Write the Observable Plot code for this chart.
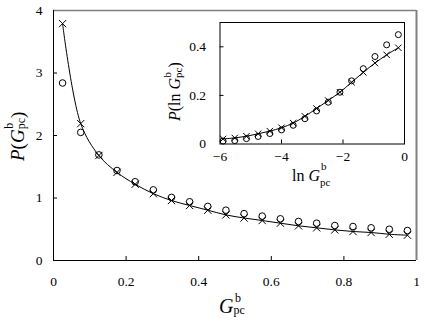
<!DOCTYPE html>
<html>
<head>
<meta charset="utf-8">
<script src="https://cdn.jsdelivr.net/npm/d3@7"></script>
<script src="https://cdn.jsdelivr.net/npm/@observablehq/plot@0.6"></script>
<style>
  html, body { margin: 0; padding: 0; background: white; }
  #wrap { position: relative; width: 425px; height: 321px; }
  #wrap svg { position: absolute; }
  #wrap svg text:not(.ttl) { font-family: 'Liberation Serif', 'Times New Roman', serif !important; font-size: 13.5px !important; fill: black; }
</style>
</head>
<body>
<div id="wrap"></div>
<script>
// ---- Main panel data ----
const mainX = [0.025, 0.075, 0.125, 0.175, 0.225, 0.275, 0.325, 0.375, 0.425, 0.475,
               0.525, 0.575, 0.625, 0.675, 0.725, 0.775, 0.825, 0.875, 0.925, 0.975];
const mainCircles = [2.84, 2.05, 1.69, 1.44, 1.26, 1.13, 1.01, 0.94, 0.865, 0.805,
                     0.75, 0.71, 0.667, 0.624, 0.597, 0.56, 0.544, 0.523, 0.50, 0.48];
const mainCrosses = [3.79, 2.19, 1.68, 1.41, 1.22, 1.07, 0.96, 0.88, 0.805, 0.73,
                     0.68, 0.64, 0.597, 0.555, 0.523, 0.49, 0.464, 0.448, 0.42, 0.405];
const mainXTicks = [0, 0.2, 0.4, 0.6, 0.8, 1];
const mainYTicks = [0, 1, 2, 3, 4];

// ---- Inset data ----
const insetX = [-5.9, -5.52, -5.14, -4.76, -4.38, -4.0, -3.62, -3.24,
                -2.86, -2.48, -2.1, -1.72, -1.34, -0.96, -0.58, -0.2];
const insetCircles = [0.012, 0.014, 0.022, 0.031, 0.043, 0.058, 0.077, 0.104,
                      0.136, 0.172, 0.213, 0.260, 0.310, 0.360, 0.408, 0.450];
const insetCrosses = [0.021, 0.025, 0.032, 0.042, 0.053, 0.067, 0.086, 0.114,
                      0.146, 0.179, 0.213, 0.254, 0.295, 0.333, 0.367, 0.396];
const insetXTicks = [-6, -4, -2, 0];
const insetYTicks = [0, 0.2, 0.4];

const mainData = mainX.map((x, i) => ({x, circle: mainCircles[i], cross: mainCrosses[i]}));
const insetData = insetX.map((x, i) => ({x, circle: insetCircles[i], cross: insetCrosses[i]}));

const fmt = d => d < 0 ? "\u2212" + Math.abs(d) : String(d);
const FONT = "'Liberation Serif', 'Times New Roman', serif";

// main frame geometry
const W = 425, H = 321;
const mL = 53, mR = 9, mT = 10, mB = 61;
const fW = W - mL - mR, fH = H - mT - mB;

const main = Plot.plot({
  width: W, height: H,
  marginLeft: mL, marginRight: mR, marginTop: mT, marginBottom: mB,
  style: {fontFamily: FONT, fontSize: "13.5px", background: "white", color: "black"},
  x: {domain: [0, 1], ticks: mainXTicks, tickFormat: fmt, tickSize: 0, tickPadding: 16, label: null},
  y: {domain: [0, 4], ticks: mainYTicks, tickFormat: fmt, tickSize: 0, tickPadding: 11, label: null},
  marks: [
    Plot.ruleY([4], {stroke: "#808080", strokeWidth: 1.5}),
    Plot.ruleX([1], {stroke: "#808080", strokeWidth: 2}),
    Plot.ruleX([0], {stroke: "black", strokeWidth: 1}),
    Plot.ruleY([0], {stroke: "black", strokeWidth: 1}),
    Plot.tickX(mainXTicks.slice(1, -1), {x: d => d, insetTop: fH - 4, stroke: "black"}),
    Plot.tickY(mainYTicks.slice(1, -1), {y: d => d, insetRight: fW - 4, stroke: "black"}),
    Plot.line(mainData, {x: "x", y: "cross", curve: "catmull-rom", stroke: "black", strokeWidth: 1}),
    Plot.dot(mainData, {x: "x", y: "circle", r: 3.3, stroke: "black", fill: "none", strokeWidth: 1}),
    Plot.dot(mainData, {x: "x", y: "cross", symbol: "times", r: 3.4, stroke: "black", strokeWidth: 1})
  ]
});

// inset geometry
const iLeft = 150, iTop = 12, iW = 270, iH = 180;
const iML = 69.5, iMR = 16, iMT = 10, iMB = 48.5;
const ifW = iW - iML - iMR, ifH = iH - iMT - iMB;

const inset = Plot.plot({
  width: iW, height: iH,
  marginLeft: iML, marginRight: iMR, marginTop: iMT, marginBottom: iMB,
  style: {fontFamily: FONT, fontSize: "13.5px", background: "transparent", color: "black", overflow: "visible"},
  x: {domain: [-6, 0], ticks: insetXTicks, tickFormat: fmt, tickSize: 0, tickPadding: 7, label: null},
  y: {domain: [0, 0.5], ticks: insetYTicks, tickFormat: fmt, tickSize: 0, tickPadding: 14, label: null},
  marks: [
    Plot.frame({stroke: "black", strokeWidth: 1}),
    Plot.tickX(insetXTicks.slice(1, -1), {x: d => d, insetTop: ifH - 4, stroke: "black"}),
    Plot.tickY(insetYTicks.slice(1), {y: d => d, insetRight: ifW - 4, stroke: "black"}),
    Plot.line(insetData, {x: "x", y: "cross", curve: "catmull-rom", stroke: "black", strokeWidth: 1}),
    Plot.dot(insetData, {x: "x", y: "circle", r: 3, stroke: "black", fill: "none", strokeWidth: 1}),
    Plot.dot(insetData, {x: "x", y: "cross", symbol: "times", r: 3, stroke: "black", strokeWidth: 1})
  ]
});

const wrap = document.getElementById("wrap");
main.style.left = "0px"; main.style.top = "0px";
inset.style.left = iLeft + "px"; inset.style.top = iTop + "px";
inset.style.background = "transparent";
wrap.appendChild(main);
wrap.appendChild(inset);

// ---- axis titles (real text with sub/superscripts) ----
function addTitle(svg, {x, y, rotate = 0, size, parts}) {
  const g = d3.select(svg).append("g")
    .attr("transform", `translate(${x},${y})` + (rotate ? ` rotate(${rotate})` : ""))
    .attr("font-family", FONT).attr("fill", "black").attr("text-anchor", "start");
  const t = g.append("text").attr("class", "ttl").attr("x", 0).attr("y", 0).attr("font-size", size)
    .attr("text-anchor", "start").style("font-size", size + "px").style("font-family", FONT);
  for (const p of parts) {
    const s = t.append("tspan").text(p.t);
    if (p.i) s.attr("font-style", "italic");
    if (p.s) s.attr("font-size", p.s).style("font-size", p.s + "px");
    if (p.dx) s.attr("dx", p.dx);
    if (p.dy) s.attr("dy", p.dy);
  }
}

// main x title: G^b_pc
addTitle(main, {x: 219, y: 313, size: 20, parts: [
  {t: "G", i: true},
  {t: "b", s: 12, dx: 1.5, dy: -11.5},
  {t: "pc", s: 12, dx: -7.5, dy: 12.5}
]});

// main y title: P(G^b_pc)
addTitle(main, {x: 24, y: 161, rotate: -90, size: 19, parts: [
  {t: "P", i: true},
  {t: "("},
  {t: "G", i: true},
  {t: "b", s: 12, dx: 0.5, dy: -11},
  {t: "pc", s: 12, dx: -6.5, dy: 12},
  {t: ")", dy: -1}
]});

// inset x title: ln G^b_pc
addTitle(inset, {x: 142, y: 168.7, size: 16, parts: [
  {t: "ln "},
  {t: "G", i: true},
  {t: "b", s: 11, dx: 1, dy: -10.5},
  {t: "pc", s: 11, dx: -6.5, dy: 16}
]});

// inset y title: P(ln G^b_pc)
addTitle(inset, {x: 30, y: 109, rotate: -90, size: 16, parts: [
  {t: "P", i: true},
  {t: "(ln "},
  {t: "G", i: true},
  {t: "b", s: 11, dx: 0.5, dy: -9.5},
  {t: "pc", s: 11, dx: -6, dy: 11},
  {t: ")", dy: -1.5}
]});
</script>
</body>
</html>
